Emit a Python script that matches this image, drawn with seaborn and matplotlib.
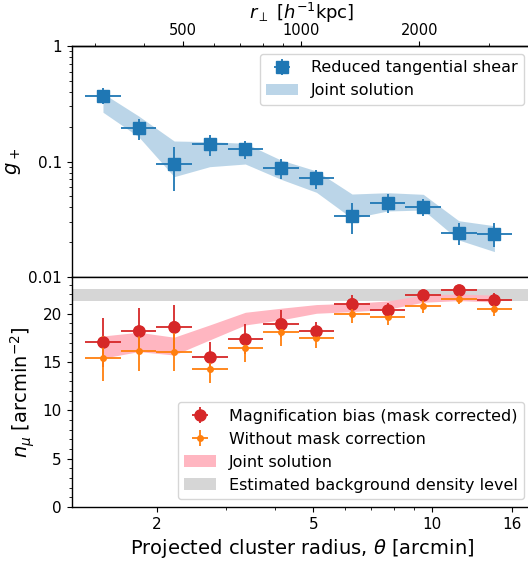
import numpy as np
import matplotlib
matplotlib.use("Agg")
import matplotlib.pyplot as plt
import seaborn as sns
from matplotlib.ticker import FixedLocator, FixedFormatter, NullFormatter, LogLocator, MultipleLocator
from matplotlib.patches import Patch

# ---------------- data ----------------
theta = np.array([1.459, 1.797, 2.213, 2.725, 3.356, 4.133, 5.090, 6.268, 7.718, 9.506, 11.71, 14.42])
bin_lo = np.array([1.315, 1.619, 1.994, 2.456, 3.024, 3.724, 4.586, 5.648, 6.955, 8.565, 10.55, 12.99])
bin_hi = np.array([1.619, 1.994, 2.456, 3.024, 3.724, 4.586, 5.648, 6.955, 8.565, 10.55, 12.99, 16.0])

g_plus = np.array([0.371, 0.194, 0.0945, 0.142, 0.129, 0.0873, 0.0720, 0.0339, 0.0440, 0.0404, 0.0242, 0.0236])
g_err_up = np.array([0.059, 0.039, 0.038, 0.027, 0.022, 0.017, 0.012, 0.010, 0.008, 0.0067, 0.0053, 0.0056])
g_err_dn = np.array([0.058, 0.040, 0.0386, 0.0295, 0.023, 0.0167, 0.0139, 0.0103, 0.008, 0.0066, 0.0053, 0.0055])
g_band_lo = np.array([0.267, 0.164, 0.0739, 0.0902, 0.0951, 0.0702, 0.0541, 0.0322, 0.0373, 0.038, 0.0209, 0.0166])
g_band_hi = np.array([0.389, 0.248, 0.1505, 0.1485, 0.1437, 0.103, 0.0828, 0.0523, 0.0537, 0.052, 0.0307, 0.0278])

n_mu = np.array([17.05, 18.22, 18.67, 15.49, 17.36, 18.98, 18.19, 21.05, 20.36, 21.95, 22.46, 21.43])
n_mu_err = np.array([2.55, 2.35, 2.28, 1.6, 1.55, 1.41, 1.0, 0.9, 0.72, 0.5, 0.52, 0.69])
n_nomask = np.array([15.39, 16.18, 16.08, 14.29, 16.49, 18.12, 17.53, 19.98, 19.64, 20.81, 21.53, 20.5])
n_nomask_err = np.array([2.3, 2.07, 1.97, 1.48, 1.45, 1.42, 1.04, 0.9, 0.8, 0.69, 0.52, 0.73])
n_band_lo = np.array([15.4, 16.08, 15.73, 17.29, 18.84, 19.36, 20.05, 20.22, 20.46, 21.19, 21.36, 21.22])
n_band_hi = np.array([17.7, 18.08, 17.57, 18.84, 20.15, 20.57, 20.95, 21.08, 21.32, 21.95, 22.05, 21.92])
bg_level = (21.35, 22.6)

kpc_per_arcmin = 215.1
x_ticks = [2, 5, 10, 16]
x_ticklabels = ["2", "5", "10", "16"]
r_ticks = [500, 1000, 2000]
r_ticklabels = ["500", "1000", "2000"]
r_minor = [300, 400, 600, 700, 800, 900, 3000]

# ---------------- style ----------------
sns.set_style("ticks")
plt.rcParams.update({
    "axes.edgecolor": "black", "xtick.color": "black", "ytick.color": "black",
    "text.color": "black", "axes.labelcolor": "black",
    "xtick.major.size": 3.5, "ytick.major.size": 3.5,
    "xtick.minor.size": 2.0, "ytick.minor.size": 2.0,
    "xtick.labelsize": 11, "ytick.labelsize": 11,
    "axes.linewidth": 1.0,
})
plt.rcParams["font.family"] = ["DejaVu Sans"]

fig = plt.figure(figsize=(5.28, 5.61), dpi=100)
L, W = 0.1358, 0.8718
ax1 = fig.add_axes([L, 0.5062, W, 0.4118])
ax2 = fig.add_axes([L, 0.0963, W, 0.4099], sharex=ax1)

xerr = [theta - bin_lo, bin_hi - theta]

# ---------------- top panel ----------------
ax1.set_xscale("log")
ax1.set_yscale("log")
ax1.fill_between(theta, g_band_lo, g_band_hi, color="C0", alpha=0.3, lw=0, zorder=1)
eb_g = ax1.errorbar(theta, g_plus, yerr=[g_err_dn, g_err_up], xerr=xerr, fmt="s",
                    color="C0", ms=8, lw=1.3, zorder=3)
sns.scatterplot(x=theta, y=g_plus, ax=ax1, marker="s", s=64, color="C0",
                edgecolor="none", legend=False, zorder=4)
ax1.set_ylim(0.01, 1)
ax1.yaxis.set_major_locator(FixedLocator([0.01, 0.1, 1]))
ax1.yaxis.set_major_formatter(FixedFormatter(["0.01", "0.1", "1"]))
ax1.yaxis.set_minor_locator(LogLocator(base=10, subs=np.arange(2, 10)))
ax1.yaxis.set_minor_formatter(NullFormatter())
ax1.set_ylabel(r"$g_+$", fontsize=14)
ax1.tick_params(axis="x", which="both", bottom=False, top=False, labelbottom=False)
ax1.legend(handles=[eb_g, Patch(color="C0", alpha=0.3, lw=0)],
           labels=["Reduced tangential shear", "Joint solution"],
           loc="upper right", fontsize=11.5)

secax = ax1.secondary_xaxis("top", functions=(lambda t: t * kpc_per_arcmin,
                                               lambda r: r / kpc_per_arcmin))
secax.xaxis.set_major_locator(FixedLocator(r_ticks))
secax.xaxis.set_major_formatter(FixedFormatter(r_ticklabels))
secax.xaxis.set_minor_locator(FixedLocator(r_minor))
secax.xaxis.set_minor_formatter(NullFormatter())
secax.tick_params(labelsize=10.5, pad=2)
secax.set_xlabel(r"$r_{\perp}$ [$h^{-1}$kpc]", fontsize=13, labelpad=3)

# ---------------- bottom panel ----------------
ax2.axhspan(bg_level[0], bg_level[1], color="#d6d6d6", lw=0, zorder=0)
ax2.fill_between(theta, n_band_lo, n_band_hi, color="lightpink", lw=0, zorder=1)
eb_r = ax2.errorbar(theta, n_mu, yerr=n_mu_err, xerr=xerr, fmt="o", color="C3",
                    ms=8, lw=1.3, zorder=3)
eb_o = ax2.errorbar(theta, n_nomask, yerr=n_nomask_err, xerr=xerr, fmt="o", color="C1",
                    ms=4, lw=1.3, zorder=4)
sns.scatterplot(x=theta, y=n_mu, ax=ax2, marker="o", s=64, color="C3",
                edgecolor="none", legend=False, zorder=5)
ax2.set_ylim(0, 23.8)
ax2.yaxis.set_major_locator(MultipleLocator(5))
ax2.yaxis.set_minor_locator(MultipleLocator(1))
ax2.set_ylabel(r"$n_\mu$ [arcmin$^{-2}$]", fontsize=14)
ax2.set_xlim(1.215, 17.97)
ax2.xaxis.set_major_locator(FixedLocator(x_ticks))
ax2.xaxis.set_major_formatter(FixedFormatter(x_ticklabels))
ax2.xaxis.set_minor_locator(LogLocator(base=10, subs=np.arange(2, 10)))
ax2.xaxis.set_minor_formatter(NullFormatter())
ax2.tick_params(axis="x", which="both", top=False)
ax2.set_xlabel(r"Projected cluster radius, $\theta$ [arcmin]", fontsize=14)
ax2.legend(handles=[eb_r, eb_o, Patch(color="lightpink", lw=0), Patch(color="#d6d6d6", lw=0)],
           labels=["Magnification bias (mask corrected)", "Without mask correction",
                   "Joint solution", "Estimated background density level"],
           loc="lower right", fontsize=11.5)

fig.savefig("out.png", dpi=100)
